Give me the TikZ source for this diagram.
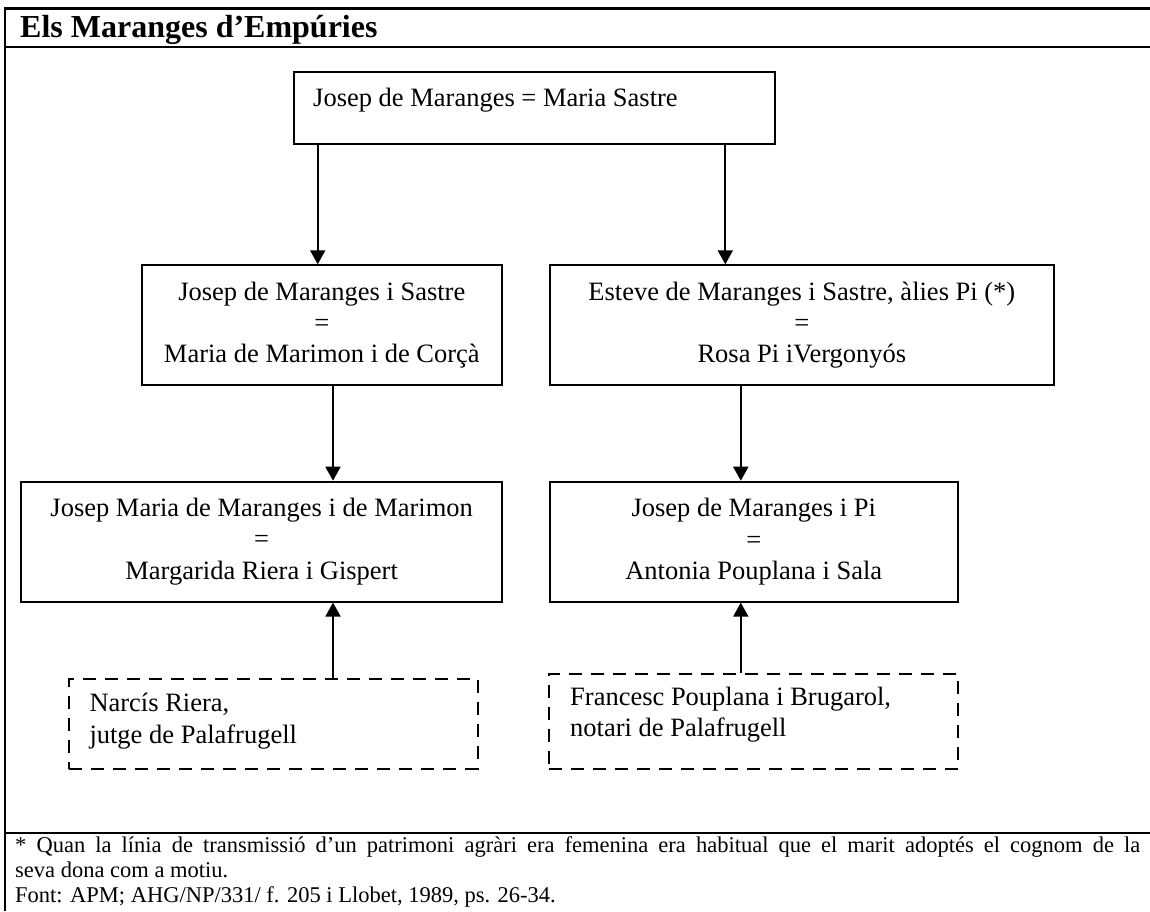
\documentclass[tikz,border=0pt]{standalone}
\usepackage{fontspec}
\setmainfont{Liberation Serif}
\usetikzlibrary{arrows.meta}
\begin{document}
\begin{tikzpicture}[x=1pt,y=-1pt,
  frame/.style={line width=2.4pt},
  box/.style={draw, line width=1.9pt, rectangle, inner sep=0pt, anchor=north west,
    align=center, font=\fontsize{26.5}{31.2}\selectfont},
  dbox/.style={draw, line width=1.9pt, dash pattern=on 13pt off 9pt, rectangle,
    inner sep=0pt, anchor=north west},
  txt/.style={inner sep=0pt, align=left, font=\fontsize{26.5}{31.6}\selectfont},
  arr/.style={line width=1.9pt, -{Triangle[length=14pt,width=15pt]}}
]
\useasboundingbox[fill=white] (0,0) rectangle (1150,911);

% frame
\draw[frame] (5,911) -- (5,8.3) -- (1152,8.3);
\draw[frame] (5,46.7) -- (1152,46.7);
\draw[frame] (5,832.7) -- (1152,832.7);

\node[anchor=base west, inner sep=0pt, font=\bfseries\fontsize{32}{38}\selectfont] (title)
  at (20,37.7) {Els Maranges d’Empúries};

% top couple
\node[box, minimum width=481pt, minimum height=72.3pt] (top) at (292.7,71) {};
\node[txt, anchor=base west] (toptxt) at (313,106.7) {Josep de Maranges = Maria Sastre};

% second generation
\node[box, minimum width=360.3pt, minimum height=120pt] (l2a) at (140.7,264.3)
  {Josep de Maranges i Sastre\\=\\Maria de Marimon i de Corçà};
\node[box, minimum width=503.8pt, minimum height=120pt] (l2b) at (549,264.3)
  {Esteve de Maranges i Sastre, àlies Pi (*)\\=\\Rosa Pi iVergonyós};

% third generation
\node[box, minimum width=480.6pt, minimum height=120pt] (l3a) at (20.4,480.7)
  {Josep Maria de Maranges i de Marimon\\=\\Margarida Riera i Gispert};
\node[box, minimum width=408.4pt, minimum height=120pt] (l3b) at (548.6,480.7)
  {Josep de Maranges i Pi\\=\\Antonia Pouplana i Sala};

% fathers-in-law
\node[dbox, minimum width=408.4pt, minimum height=90pt] (d1) at (68.3,677.7) {};
\node[txt, anchor=base west] (d1t) at (89.3,743.3) {Narcís Riera,\\jutge de Palafrugell};
\node[dbox, minimum width=409pt, minimum height=95pt] (d2) at (548.3,672.7) {};
\node[txt, anchor=base west] (d2t) at (570,736.7) {Francesc Pouplana i Brugarol,\\notari de Palafrugell};

% connectors
\coordinate (c1) at (317.7,0);
\coordinate (c2) at (725.3,0);
\coordinate (c3) at (333,0);
\coordinate (c4) at (740.8,0);
\draw[arr] (top.south -| c1) -- (l2a.north -| c1);
\draw[arr] (top.south -| c2) -- (l2b.north -| c2);
\draw[arr] (l2a.south -| c3) -- (l3a.north -| c3);
\draw[arr] (l2b.south -| c4) -- (l3b.north -| c4);
\draw[arr] (d1.north -| c3) -- (l3a.south -| c3);
\draw[arr] (d2.north -| c4) -- (l3b.south -| c4);

% footnote
\node[anchor=base west, inner sep=0pt, align=left, font=\fontsize{22.5}{25}\selectfont] (fn)
  at (15,902.3)
  {\makebox[1125pt][s]{* Quan la línia de transmissió d’un patrimoni agràri era femenina era habitual que el marit adoptés el cognom de la}\\
   seva dona com a motiu.\\
   Font: APM; AHG/NP/331/ f. 205 i Llobet, 1989, ps. 26-34.};
\end{tikzpicture}
\end{document}
